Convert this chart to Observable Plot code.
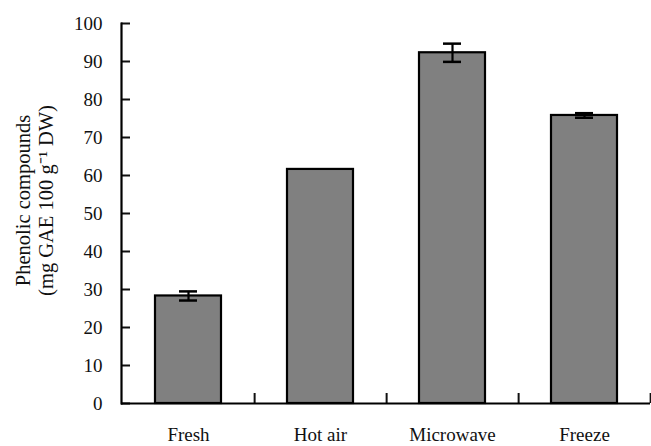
<!DOCTYPE html>
<html>
<head>
<meta charset="utf-8">
<script src="https://cdn.jsdelivr.net/npm/d3@7"></script>
<script src="https://cdn.jsdelivr.net/npm/@observablehq/plot@0.6"></script>
<style>
  html, body { margin: 0; padding: 0; background: #fff; }
  svg { font-family: "Liberation Serif", "DejaVu Serif", serif; }
</style>
</head>
<body>
<div id="chart"></div>
<script>
const categories = ["Fresh", "Hot air", "Microwave", "Freeze"];
const values = [28.3, 61.6, 92.3, 75.8];
const errors = [1.2, 0, 2.4, 0.6];
const yTicks = [0, 10, 20, 30, 40, 50, 60, 70, 80, 90, 100];
const yLabel = "Phenolic compounds\n(mg GAE 100 g⁻¹ DW)";

const data = categories.map((c, i) => ({cat: c, v: values[i], lo: values[i] - errors[i], hi: values[i] + errors[i]}));

const W = 651, H = 446;
const mL = 121, mR = 1, mT = 23, mB = 43;
const step = (W - mL - mR) / categories.length;

const plot = Plot.plot({
  width: W, height: H,
  marginLeft: mL, marginRight: mR, marginTop: mT, marginBottom: mB,
  style: {fontFamily: "Liberation Serif, serif", fontSize: "19px", color: "#111", background: "#fff"},
  x: {domain: categories, paddingInner: 0.5, paddingOuter: 0.25, label: null},
  y: {domain: [0, 100], label: null},
  marks: [
    Plot.barY(data, {x: "cat", y: "v", fill: "#808080", stroke: "#000", strokeWidth: 2.2}),
    Plot.ruleX(data.filter(d => d.hi > d.v), {x: "cat", y1: "lo", y2: "hi", stroke: "#000", strokeWidth: 2.2}),
    Plot.tickY(data.filter(d => d.hi > d.v), {x: "cat", y: "hi", stroke: "#000", strokeWidth: 2.5, insetLeft: 24, insetRight: 24}),
    Plot.tickY(data.filter(d => d.hi > d.v), {x: "cat", y: "lo", stroke: "#000", strokeWidth: 2.5, insetLeft: 24, insetRight: 24}),
    Plot.axisY({ticks: yTicks, tickSize: 0, tickPadding: 19, tickFormat: d => String(d), fontSize: 19, label: null}),
    Plot.axisY({ticks: yTicks, tickSize: -9, tickFormat: () => "", strokeWidth: 2, label: null}),
    Plot.axisX({tickSize: 0, tickPadding: 24, fontSize: 19, label: null}),
    Plot.axisX({tickSize: -10, dx: step / 2, tickFormat: () => "", strokeWidth: 2, label: null}),
    Plot.ruleY([0], {stroke: "#000", strokeWidth: 2.2}),
    Plot.frame({anchor: "left", stroke: "#000", strokeWidth: 2.2}),
    Plot.text([yLabel], {frameAnchor: "left", textAnchor: "middle", lineAnchor: "middle", rotate: -90, dx: -87, dy: -13, fontSize: 20.5, lineHeight: 1.1, fill: "#111"})
  ]
});
document.getElementById("chart").appendChild(plot);
</script>
</body>
</html>
